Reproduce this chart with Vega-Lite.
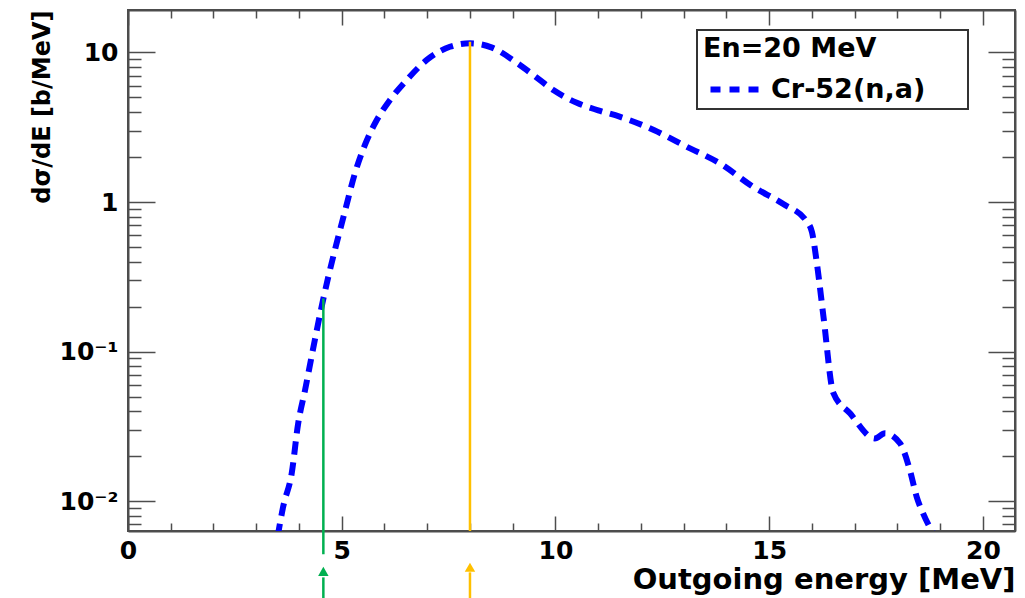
{
  "$schema": "https://vega.github.io/schema/vega-lite/v6.json",
  "width": 887,
  "height": 521,
  "autosize": {"type": "none"},
  "padding": {"left": 128, "top": 10, "right": 10, "bottom": 67},
  "background": "white",
  "config": {
    "font": "DejaVu Sans",
    "view": {"stroke": "#4d4d4d", "strokeWidth": 2},
    "axis": {
      "grid": false,
      "domainColor": "#4d4d4d",
      "domainWidth": 2,
      "tickColor": "#4d4d4d",
      "tickWidth": 1.5,
      "labelFont": "DejaVu Sans",
      "labelFontWeight": "bold",
      "labelFontSize": 25,
      "labelColor": "#000000",
      "titleFont": "DejaVu Sans",
      "titleFontWeight": "bold",
      "titleColor": "#000000",
      "labelOverlap": false,
      "labelFlush": false,
      "labelBound": false
    },
    "legend": {"strokeWidth": 2}
  },
  "datasets": {
    "curve": [
      {"E": 3.50, "dsdE": 0.0058, "series": "Cr-52(n,a)"},
      {"E": 3.63, "dsdE": 0.0092, "series": "Cr-52(n,a)"},
      {"E": 3.83, "dsdE": 0.0154, "series": "Cr-52(n,a)"},
      {"E": 3.98, "dsdE": 0.033, "series": "Cr-52(n,a)"},
      {"E": 4.14, "dsdE": 0.055, "series": "Cr-52(n,a)"},
      {"E": 4.34, "dsdE": 0.108, "series": "Cr-52(n,a)"},
      {"E": 4.53, "dsdE": 0.20, "series": "Cr-52(n,a)"},
      {"E": 4.69, "dsdE": 0.32, "series": "Cr-52(n,a)"},
      {"E": 4.88, "dsdE": 0.53, "series": "Cr-52(n,a)"},
      {"E": 5.08, "dsdE": 0.88, "series": "Cr-52(n,a)"},
      {"E": 5.31, "dsdE": 1.56, "series": "Cr-52(n,a)"},
      {"E": 5.54, "dsdE": 2.40, "series": "Cr-52(n,a)"},
      {"E": 5.82, "dsdE": 3.53, "series": "Cr-52(n,a)"},
      {"E": 6.13, "dsdE": 4.81, "series": "Cr-52(n,a)"},
      {"E": 6.52, "dsdE": 6.54, "series": "Cr-52(n,a)"},
      {"E": 6.99, "dsdE": 8.9, "series": "Cr-52(n,a)"},
      {"E": 7.53, "dsdE": 10.9, "series": "Cr-52(n,a)"},
      {"E": 8.0, "dsdE": 11.5, "series": "Cr-52(n,a)"},
      {"E": 8.5, "dsdE": 10.8, "series": "Cr-52(n,a)"},
      {"E": 9.1, "dsdE": 8.5, "series": "Cr-52(n,a)"},
      {"E": 9.5, "dsdE": 7.0, "series": "Cr-52(n,a)"},
      {"E": 9.95, "dsdE": 5.6, "series": "Cr-52(n,a)"},
      {"E": 10.5, "dsdE": 4.6, "series": "Cr-52(n,a)"},
      {"E": 11.0, "dsdE": 4.1, "series": "Cr-52(n,a)"},
      {"E": 11.5, "dsdE": 3.72, "series": "Cr-52(n,a)"},
      {"E": 12.3, "dsdE": 3.03, "series": "Cr-52(n,a)"},
      {"E": 13.07, "dsdE": 2.34, "series": "Cr-52(n,a)"},
      {"E": 13.85, "dsdE": 1.81, "series": "Cr-52(n,a)"},
      {"E": 14.63, "dsdE": 1.26, "series": "Cr-52(n,a)"},
      {"E": 15.33, "dsdE": 0.97, "series": "Cr-52(n,a)"},
      {"E": 15.88, "dsdE": 0.74, "series": "Cr-52(n,a)"},
      {"E": 16.0, "dsdE": 0.63, "series": "Cr-52(n,a)"},
      {"E": 16.11, "dsdE": 0.40, "series": "Cr-52(n,a)"},
      {"E": 16.27, "dsdE": 0.171, "series": "Cr-52(n,a)"},
      {"E": 16.5, "dsdE": 0.053, "series": "Cr-52(n,a)"},
      {"E": 16.89, "dsdE": 0.0387, "series": "Cr-52(n,a)"},
      {"E": 17.47, "dsdE": 0.0263, "series": "Cr-52(n,a)"},
      {"E": 17.71, "dsdE": 0.0285, "series": "Cr-52(n,a)"},
      {"E": 18.06, "dsdE": 0.0244, "series": "Cr-52(n,a)"},
      {"E": 18.29, "dsdE": 0.0162, "series": "Cr-52(n,a)"},
      {"E": 18.45, "dsdE": 0.0107, "series": "Cr-52(n,a)"},
      {"E": 18.6, "dsdE": 0.0083, "series": "Cr-52(n,a)"},
      {"E": 18.85, "dsdE": 0.006, "series": "Cr-52(n,a)"}
    ],
    "markers": [
      {"E": 4.57, "hi": 0.227, "lo": 0.00442, "c": "g"},
      {"E": 4.57, "hi": 0.0031, "lo": 0.0015, "c": "g"},
      {"E": 8.0, "hi": 11.8, "lo": 0.00633, "c": "o"},
      {"E": 8.0, "hi": 0.00335, "lo": 0.0015, "c": "o"}
    ],
    "arrows": [
      {"E": 4.57, "v": 0.0034, "c": "g"},
      {"E": 8.0, "v": 0.00362, "c": "o"}
    ]
  },
  "layer": [
    {
      "data": {"name": "curve"},
      "mark": {"type": "line", "strokeWidth": 6, "strokeDash": [13, 8], "clip": true, "interpolate": "monotone"},
      "encoding": {
        "x": {
          "field": "E",
          "type": "quantitative",
          "scale": {"domain": [0, 20.75], "nice": false, "zero": false},
          "axis": {
            "orient": "bottom",
            "values": [0, 1, 2, 3, 4, 5, 6, 7, 8, 9, 10, 11, 12, 13, 14, 15, 16, 17, 18, 19, 20],
            "tickSize": {"condition": {"test": "datum.value % 5 === 0", "value": -15}, "value": -8},
            "labelExpr": "datum.value % 5 === 0 ? datum.label : ''",
            "labelPadding": 22,
            "title": "Outgoing energy [MeV]",
            "titleFontSize": 29,
            "titleAnchor": "end",
            "titlePadding": -5
          }
        },
        "y": {
          "field": "dsdE",
          "type": "quantitative",
          "scale": {"type": "log", "domain": [0.00633, 19.2], "nice": false},
          "axis": {
            "orient": "left",
            "values": [0.007, 0.008, 0.009, 0.01, 0.02, 0.03, 0.04, 0.05, 0.06, 0.07, 0.08, 0.09, 0.1, 0.2, 0.3, 0.4, 0.5, 0.6, 0.7, 0.8, 0.9, 1, 2, 3, 4, 5, 6, 7, 8, 9, 10],
            "tickSize": {"condition": {"test": "indexof([0.01, 0.1, 1, 10], datum.value) >= 0", "value": -27}, "value": -13},
            "labelExpr": "datum.value === 10 ? '10' : datum.value === 1 ? '1' : datum.value === 0.1 ? '10⁻¹' : datum.value === 0.01 ? '10⁻²' : ''",
            "labelPadding": 37,
            "title": "dσ/dE [b/MeV]",
            "titleFontSize": 24,
            "titleAnchor": "end",
            "titlePadding": 5
          }
        },
        "color": {
          "field": "series",
          "type": "nominal",
          "scale": {"range": ["#0000ff"]},
          "legend": {
            "orient": "none",
            "legendX": 569,
            "legendY": 20,
            "title": "En=20 MeV",
            "titleFontSize": 27,
            "titleFontWeight": "bold",
            "titleColor": "#000000",
            "titlePadding": 11,
            "labelFontSize": 27,
            "labelFontWeight": "bold",
            "labelColor": "#000000",
            "labelLimit": 400,
            "labelOffset": 20,
            "labelExpr": "datum.label + '\u00a0\u2009\u2800'",
            "symbolType": "M-2,0H2",
            "symbolSize": 625,
            "symbolOffset": 17,
            "symbolStrokeWidth": 6,
            "symbolDash": [10, 9],
            "strokeColor": "#333333",
            "padding": 6
          }
        }
      }
    },
    {
      "data": {"name": "markers"},
      "mark": {"type": "rule", "strokeWidth": 2.5},
      "encoding": {
        "x": {
          "field": "E",
          "type": "quantitative",
          "axis": {
            "orient": "top",
            "values": [0, 1, 2, 3, 4, 5, 6, 7, 8, 9, 10, 11, 12, 13, 14, 15, 16, 17, 18, 19, 20],
            "tickSize": {"condition": {"test": "datum.value % 5 === 0", "value": -15}, "value": -8},
            "labels": false,
            "title": null
          }
        },
        "y": {
          "field": "hi",
          "type": "quantitative",
          "axis": {
            "orient": "right",
            "values": [0.007, 0.008, 0.009, 0.01, 0.02, 0.03, 0.04, 0.05, 0.06, 0.07, 0.08, 0.09, 0.1, 0.2, 0.3, 0.4, 0.5, 0.6, 0.7, 0.8, 0.9, 1, 2, 3, 4, 5, 6, 7, 8, 9, 10],
            "tickSize": {"condition": {"test": "indexof([0.01, 0.1, 1, 10], datum.value) >= 0", "value": -27}, "value": -13},
            "labels": false,
            "title": null
          }
        },
        "y2": {"field": "lo"},
        "color": {"condition": {"test": "datum.c === 'g'", "value": "#00b050"}, "value": "#ffc000"}
      }
    },
    {
      "data": {"name": "arrows"},
      "mark": {"type": "point", "shape": "triangle-up", "filled": true, "size": 110, "opacity": 1},
      "encoding": {
        "x": {"field": "E", "type": "quantitative", "axis": null},
        "y": {"field": "v", "type": "quantitative", "axis": null},
        "color": {"condition": {"test": "datum.c === 'g'", "value": "#00b050"}, "value": "#ffc000"}
      }
    }
  ],
  "resolve": {"axis": {"x": "independent", "y": "independent"}}
}
